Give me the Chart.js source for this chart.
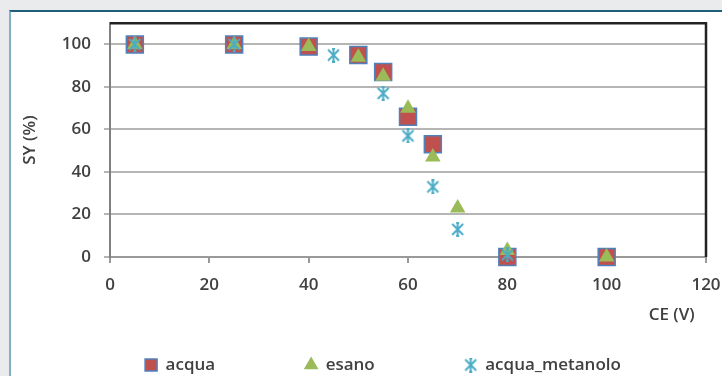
<!DOCTYPE html>
<html>
<head>
<meta charset="utf-8">
<script src="https://cdn.jsdelivr.net/npm/chart.js@4.4.1/dist/chart.umd.min.js"></script>
<style>
  html, body { margin: 0; padding: 0; background: #e9ebed; overflow: hidden; }
  .panel {
    position: absolute; left: 9px; top: 10px; width: 800px; height: 420px;
    background: #fff; border-top: 2px solid #1d5e78; border-left: 2px solid #7fb1c2;
  }
  .wrap { position: absolute; left: 0; top: 0; width: 722px; height: 376px; }
</style>
</head>
<body>
<div class="panel"></div>
<div class="wrap"><canvas class="js-chart" width="722" height="376"></canvas></div>
<script>
const ctx = document.querySelector(".js-chart").getContext("2d");

const SERIES_NAMES = ["acqua", "esano", "acqua_metanolo"];
const ACQUA_CE = [5, 25, 40, 50, 55, 60, 65, 80, 100];
const ACQUA_SY = [100, 100, 99, 95, 87, 66, 53, 0, 0];
const ESANO_CE = [5, 25, 40, 50, 55, 60, 65, 70, 80, 100];
const ESANO_SY = [100, 100, 99, 94, 85, 70, 47, 23, 3, 0];
const METANOLO_CE = [5, 25, 45, 55, 60, 65, 70, 80];
const METANOLO_SY = [100, 100, 95, 77, 57, 33, 13, 1];
const Y_TICKS = [0, 20, 40, 60, 80, 100];
const X_TICKS = [0, 20, 40, 60, 80, 100, 120];

const FONT = { family: "'Open Sans', sans-serif", size: 17, weight: "600" };
const TEXT_COLOR = "#404040";

function toPoints(xs, ys) {
  return xs.map((x, i) => ({ x, y: ys[i] }));
}

// excel style asterisk: X plus a vertical bar
function makeStar() {
  const c = document.createElement("canvas");
  c.width = 15;
  c.height = 15;
  const g = c.getContext("2d");
  g.strokeStyle = "#4bacc6";
  g.lineWidth = 2;
  g.beginPath();
  g.moveTo(2, 2); g.lineTo(13, 13);
  g.moveTo(13, 2); g.lineTo(2, 13);
  g.moveTo(7.5, 1); g.lineTo(7.5, 14);
  g.moveTo(6, 1); g.lineTo(9, 1);
  g.moveTo(6, 14); g.lineTo(9, 14);
  g.stroke();
  return c;
}

const frame = {
  id: "frame",
  beforeDatasetsDraw(chart) {
    const { ctx, chartArea: a } = chart;
    ctx.save();
    ctx.strokeStyle = "#222";
    ctx.lineWidth = 2.5;
    ctx.beginPath();
    ctx.moveTo(a.left, a.top);
    ctx.lineTo(a.right, a.top);
    ctx.lineTo(a.right, a.bottom);
    ctx.stroke();
    ctx.restore();
  },
};

new Chart(ctx, {
  type: "scatter",
  data: {
    datasets: [
      {
        label: SERIES_NAMES[0],
        data: toPoints(ACQUA_CE, ACQUA_SY),
        pointStyle: "rect",
        pointRadius: 12,
        pointHoverRadius: 12,
        backgroundColor: "#c0504d",
        borderColor: "#4f81bd",
        borderWidth: 1.5,
        order: 3,
        clip: false,
      },
      {
        label: SERIES_NAMES[1],
        data: toPoints(ESANO_CE, ESANO_SY),
        pointStyle: "triangle",
        pointRadius: 9,
        pointHoverRadius: 9,
        backgroundColor: "#9bbb59",
        borderColor: "#9bbb59",
        borderWidth: 0,
        order: 2,
        clip: false,
      },
      {
        label: SERIES_NAMES[2],
        data: toPoints(METANOLO_CE, METANOLO_SY),
        pointStyle: makeStar(),
        backgroundColor: "#4bacc6",
        borderColor: "#4bacc6",
        order: 1,
        clip: false,
      },
    ],
  },
  options: {
    responsive: false,
    animation: false,
    layout: { padding: { left: 44, right: 0, top: 23, bottom: -7.5 } },
    plugins: {
      tooltip: { enabled: false },
      legend: {
        position: "bottom",
        labels: {
          usePointStyle: true,
          boxWidth: 12,
          boxHeight: 12,
          padding: 56,
          color: TEXT_COLOR,
          font: FONT,
          generateLabels(chart) {
            const items = Chart.defaults.plugins.legend.labels.generateLabels(chart);
            // wider gap after the first two entries
            items.forEach((item) => {
              if (item.datasetIndex < SERIES_NAMES.length - 1) item.text += "\u2003\u2003";
            });
            return items;
          },
          sort: (a, b) => a.datasetIndex - b.datasetIndex,
        },
      },
    },
    scales: {
      x: {
        type: "linear",
        min: X_TICKS[0],
        max: X_TICKS[X_TICKS.length - 1],
        afterBuildTicks(axis) {
          axis.ticks = X_TICKS.map((value) => ({ value }));
        },
        afterFit(axis) {
          axis.height = 43.5;
          axis.paddingRight = 16;
        },
        grid: { drawOnChartArea: false, drawTicks: true, tickLength: 6, color: "#999", lineWidth: 2 },
        border: { color: "#999", width: 2 },
        ticks: { color: TEXT_COLOR, font: FONT, padding: 12, maxRotation: 0 },
        title: {
          display: true,
          text: "CE (V)\u2002\u2009",
          align: "end",
          color: TEXT_COLOR,
          font: FONT,
          padding: { top: 0, bottom: -24.7 },
        },
      },
      y: {
        min: 0,
        max: 110,
        afterBuildTicks(axis) {
          axis.ticks = Y_TICKS.map((value) => ({ value }));
        },
        afterFit(axis) {
          axis.width = 66;
        },
        grid: { color: "#b5b5b5", lineWidth: 2, tickLength: 6 },
        border: { color: "#808080", width: 2 },
        ticks: { color: TEXT_COLOR, font: FONT, padding: 13 },
        title: {
          display: true,
          text: "SY (%)",
          color: TEXT_COLOR,
          font: FONT,
          padding: { top: -24.2, bottom: 0 },
        },
      },
    },
  },
  plugins: [frame],
});
</script>
</body>
</html>
